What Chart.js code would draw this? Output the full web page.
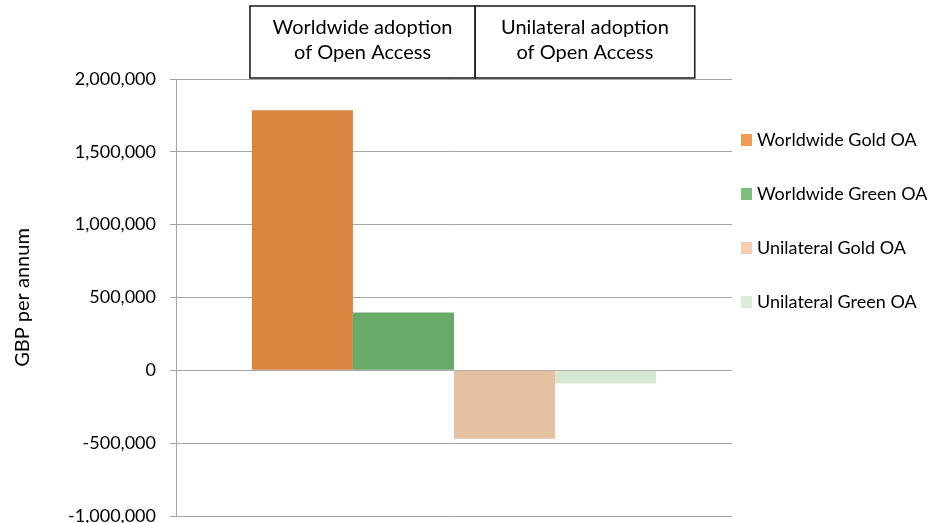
<!DOCTYPE html>
<html>
<head>
<meta charset="utf-8">
<script src="https://cdn.jsdelivr.net/npm/chart.js@4"></script>
<style>
  body { margin: 0; background: #fff; }
  #wrap { width: 933px; height: 523px; position: relative; }
</style>
</head>
<body>
<div id="wrap"><canvas id="oaChart"></canvas></div>
<script>
// Data
const categories = [''];
const seriesNames = ['Worldwide Gold OA', 'Worldwide Green OA', 'Unilateral Gold OA', 'Unilateral Green OA'];
const worldwideGold = [1785000];
const worldwideGreen = [397000];
const unilateralGold = [-470000];
const unilateralGreen = [-90000];
const headerLabels = [['Worldwide adoption', 'of Open Access'], ['Unilateral adoption', 'of Open Access']];
const yMin = -1000000;
const yMax = 2000000;
const yStep = 500000;

const barColors = ['#d9843f', '#68aa68', '#e5c1a1', '#d4e8d4'];
const swatchColors = ['#ef9a55', '#7dbd7d', '#f5cdb0', '#d9edd9'];
const fontFamily = 'Lato, "Open Sans", sans-serif';

// header boxes above the plot
const headerPlugin = {
    id: 'headerBoxes',
    afterDraw(chart) {
        const { ctx, chartArea } = chart;
        const w = chartArea.right - chartArea.left;
        const edges = [0.133, 0.538, 0.933].map(f => chartArea.left + f * w);
        const top = 6;
        const bottom = chartArea.top - 1;
        ctx.save();
        ctx.strokeStyle = '#222';
        ctx.lineWidth = 1.6;
        ctx.fillStyle = '#000';
        ctx.font = '20px ' + fontFamily;
        ctx.textAlign = 'center';
        ctx.textBaseline = 'middle';
        for (let i = 0; i < headerLabels.length; i++) {
            const x0 = edges[i], x1 = edges[i + 1];
            ctx.strokeRect(x0, top, x1 - x0, bottom - top);
            ctx.fillText(headerLabels[i][0], (x0 + x1) / 2, 28);
            ctx.fillText(headerLabels[i][1], (x0 + x1) / 2, 53);
        }
        ctx.restore();
    }
};

// legend on the right, Excel style
const sideLegend = {
    id: 'sideLegend',
    afterDraw(chart) {
        const { ctx, chartArea } = chart;
        const x = chartArea.right + 9;
        ctx.save();
        ctx.font = '18px ' + fontFamily;
        ctx.textBaseline = 'middle';
        chart.data.datasets.forEach((ds, i) => {
            const y = chartArea.top + 61 + i * 54;
            ctx.fillStyle = swatchColors[i];
            ctx.fillRect(x, y - 6, 11, 12);
            ctx.fillStyle = '#000';
            ctx.fillText(ds.label, x + 16, y);
        });
        ctx.restore();
    }
};

const allSeries = [worldwideGold, worldwideGreen, unilateralGold, unilateralGreen];

const ctx = document.getElementById('oaChart').getContext('2d');
const oaChart = new Chart(ctx, {
    type: 'bar',
    data: {
        labels: categories,
        datasets: allSeries.map((vals, i) => ({
            label: seriesNames[i],
            data: vals,
            backgroundColor: barColors[i],
            borderWidth: 0,
            barPercentage: 1,
            categoryPercentage: 0.727
        }))
    },
    options: {
        responsive: true,
        maintainAspectRatio: false,
        animation: false,
        layout: { padding: { top: 79, right: 201, bottom: 7, left: 0 } },
        plugins: {
            legend: { display: false },
            tooltip: { enabled: false }
        },
        scales: {
            x: { display: false },
            y: {
                min: yMin,
                max: yMax,
                ticks: {
                    stepSize: yStep,
                    padding: 14,
                    color: '#000',
                    font: { family: fontFamily, size: 18 },
                    callback: v => v.toLocaleString('en-US')
                },
                grid: { color: '#a6a6a6', tickLength: 6, lineWidth: 1 },
                border: { display: true, color: '#a6a6a6' },
                title: {
                    display: true,
                    text: 'GBP per annum',
                    color: '#000',
                    font: { family: fontFamily, size: 20 },
                    padding: { top: 11, bottom: 0 }
                },
                afterFit(scale) {
                    scale.width = 176;
                    scale.paddingTop = 0;
                    scale.paddingBottom = 0;
                }
            }
        }
    },
    plugins: [headerPlugin, sideLegend]
});
</script>
</body>
</html>
